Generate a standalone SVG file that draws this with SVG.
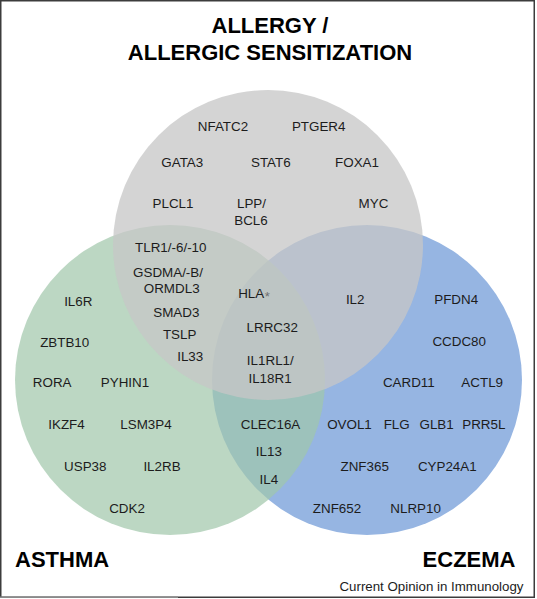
<svg xmlns="http://www.w3.org/2000/svg" width="537" height="599" viewBox="0 0 537 599">
<style>
.gene{font-family:"Liberation Sans",Arial,sans-serif;font-size:13.4px;fill:#1c1c1c;text-anchor:middle}
.title{font-family:"Liberation Sans",Arial,sans-serif;font-size:22px;font-weight:bold;fill:#000}
.credit{font-family:"Liberation Sans",Arial,sans-serif;font-size:13.3px;fill:#1c1c1c;text-anchor:end}
</style>
<rect x="0" y="0" width="537" height="599" fill="#fff"/>
<g id="eczema">
<circle cx="367" cy="380" r="155" fill="#96b5e2"/>
</g>
<g id="asthma">
<circle cx="170" cy="380" r="155" fill="#a1c6ab" fill-opacity="0.71"/>
</g>
<g id="allergy">
<circle cx="268" cy="245" r="155" fill="#c6c6c6" fill-opacity="0.76"/>
</g>
<g id="connectors"/>
<g id="titles">
<text class="title" x="270" y="32.5" text-anchor="middle">ALLERGY /</text>
<text class="title" x="270" y="60" text-anchor="middle">ALLERGIC SENSITIZATION</text>
<text class="title" x="15" y="567">ASTHMA</text>
<text class="title" x="515.5" y="567" text-anchor="end">ECZEMA</text>
<text class="credit" x="523.5" y="591">Current Opinion in Immunology</text>
</g>
<g id="allergy-genes">
<text class="gene" x="223" y="131">NFATC2</text>
<text class="gene" x="318.7" y="131">PTGER4</text>
<text class="gene" x="182.3" y="167.3">GATA3</text>
<text class="gene" x="270.8" y="167.3">STAT6</text>
<text class="gene" x="357" y="167.3">FOXA1</text>
<text class="gene" x="173" y="207.7">PLCL1</text>
<text class="gene" x="251.5" y="207.7" text-anchor="start">LPP/</text>
<text class="gene" x="251" y="225" text-anchor="start">BCL6</text>
<text class="gene" x="373.5" y="207.7">MYC</text>
</g>
<g id="allergy-asthma-genes">
<text class="gene" x="170.8" y="251.7">TLR1/-6/-10</text>
<text class="gene" x="168" y="276.7">GSDMA/-B/</text>
<text class="gene" x="171.7" y="292.7">ORMDL3</text>
<text class="gene" x="176.3" y="316.7">SMAD3</text>
<text class="gene" x="179.7" y="339">TSLP</text>
<text class="gene" x="190.2" y="360.7">IL33</text>
</g>
<g id="asthma-genes">
<text class="gene" x="78.3" y="306">IL6R</text>
<text class="gene" x="64.7" y="346.7">ZBTB10</text>
<text class="gene" x="52.2" y="387.3">RORA</text>
<text class="gene" x="125" y="387.3">PYHIN1</text>
<text class="gene" x="66.5" y="429">IKZF4</text>
<text class="gene" x="146" y="429">LSM3P4</text>
<text class="gene" x="85.3" y="471">USP38</text>
<text class="gene" x="162" y="471">IL2RB</text>
<text class="gene" x="127" y="513">CDK2</text>
</g>
<g id="all-three-genes">
<text class="gene" x="254" y="298.3" text-anchor="start">HLA<tspan font-size="13" dx="0.5" dy="3" fill="#707070">*</tspan></text>
<text class="gene" x="272.2" y="332.3">LRRC32</text>
<text class="gene" x="270.3" y="365">IL1RL1/</text>
<text class="gene" x="270" y="383.3">IL18R1</text>
</g>
<g id="allergy-eczema-genes">
<text class="gene" x="355.2" y="304">IL2</text>
</g>
<g id="asthma-eczema-genes">
<text class="gene" x="270.5" y="429">CLEC16A</text>
<text class="gene" x="268.8" y="455.5">IL13</text>
<text class="gene" x="268.8" y="484">IL4</text>
</g>
<g id="eczema-genes">
<text class="gene" x="456.2" y="304">PFDN4</text>
<text class="gene" x="459.2" y="346">CCDC80</text>
<text class="gene" x="408.8" y="386.7">CARD11</text>
<text class="gene" x="482.2" y="386.7">ACTL9</text>
<text class="gene" x="349.5" y="429">OVOL1</text>
<text class="gene" x="396.7" y="429">FLG</text>
<text class="gene" x="436.6" y="429">GLB1</text>
<text class="gene" x="483.8" y="429">PRR5L</text>
<text class="gene" x="364.7" y="471">ZNF365</text>
<text class="gene" x="447.3" y="471">CYP24A1</text>
<text class="gene" x="337" y="513">ZNF652</text>
<text class="gene" x="415.6" y="513">NLRP10</text>
</g>
<rect x="0.75" y="0.75" width="533.5" height="596.5" fill="none" stroke="#3c3c3c" stroke-width="1.5"/>
<line x1="0" y1="597.25" x2="178" y2="597.25" stroke="#8a8a8a" stroke-width="1.5"/>
</svg>
